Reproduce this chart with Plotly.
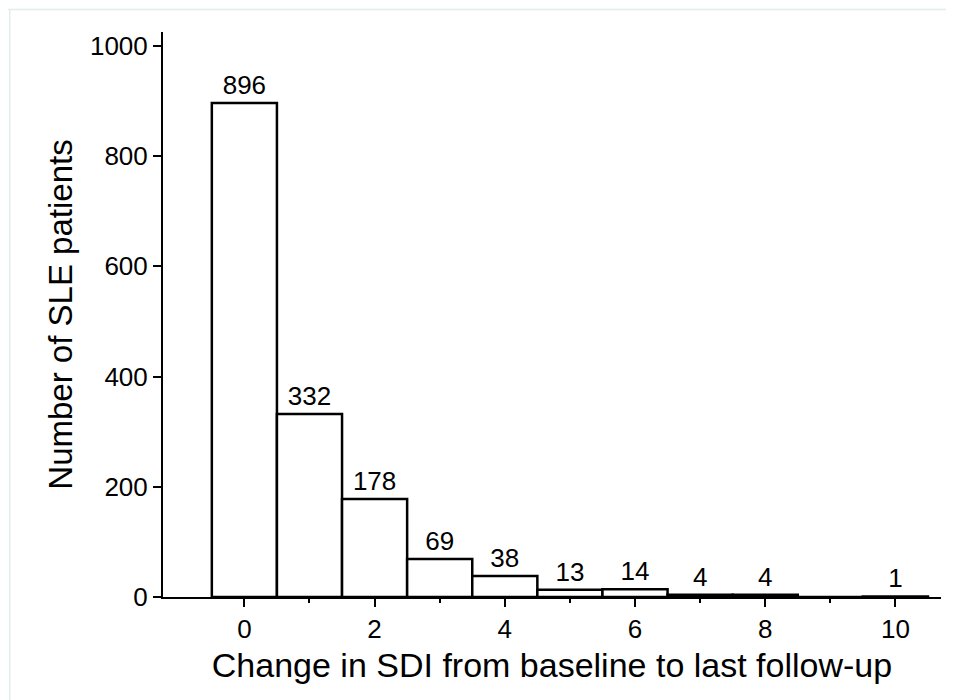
import plotly.graph_objects as go

sdi_change = [0, 1, 2, 3, 4, 5, 6, 7, 8, 9, 10]
patients = [896, 332, 178, 69, 38, 13, 14, 4, 4, 0, 1]
bar_labels = ["896", "332", "178", "69", "38", "13", "14", "4", "4", "", "1"]
minor_ticks = [1, 3, 5, 7, 9]

FONT = "Liberation Sans, Arial, Helvetica, sans-serif"

fig = go.Figure()
fig.add_trace(go.Bar(
    x=sdi_change,
    y=patients,
    width=1,
    marker=dict(color="white", line=dict(color="black", width=2.5)),
    text=bar_labels,
    textposition="outside",
    textfont=dict(family=FONT, size=26, color="black"),
    cliponaxis=False,
    hoverinfo="x+y",
))

fig.update_layout(
    width=946, height=692,
    margin=dict(l=155, r=13, t=24, b=103),
    paper_bgcolor="white", plot_bgcolor="white",
    font=dict(family=FONT, color="black"),
    showlegend=False,
    xaxis=dict(
        range=[-1.25, 10.7],
        tick0=0, dtick=2,
        ticks="outside", ticklen=8, tickwidth=2, tickcolor="black",
        minor=dict(tickmode="array", tickvals=minor_ticks, ticks="outside", ticklen=4,
                   tickwidth=2, tickcolor="black", showgrid=False),
        showline=True, linecolor="black", linewidth=2,
        showgrid=False, zeroline=False,
        tickfont=dict(size=26),
        title=dict(text="Change in SDI from baseline to last follow-up", font=dict(size=34), standoff=10),
    ),
    yaxis=dict(
        range=[0, 1025],
        tick0=0, dtick=200,
        ticks="outside", ticklen=8, tickwidth=2, tickcolor="black",
        showline=True, linecolor="black", linewidth=2,
        showgrid=False, zeroline=False,
        tickfont=dict(size=26),
        title=dict(text="Number of SLE patients", font=dict(size=33), standoff=7),
    ),
    shapes=[
        dict(type="line", xref="paper", yref="paper", x0=-0.199, x1=1.02, y0=1.04, y1=1.04,
             line=dict(color="#e3ecec", width=1.5)),
        dict(type="line", xref="paper", yref="paper", x0=-0.197, x1=-0.197, y0=-0.2, y1=1.04,
             line=dict(color="#e3ecec", width=1.5)),
    ],
)

fig.write_html("out.html")
